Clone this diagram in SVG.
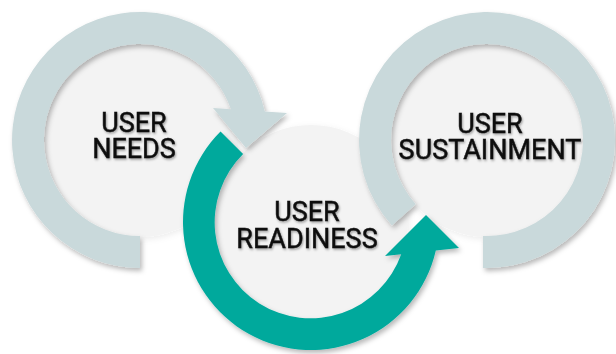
<svg xmlns="http://www.w3.org/2000/svg" width="616" height="354" viewBox="0 0 616 354">
  <defs>
    <filter id="ringShadow" x="-20%" y="-20%" width="140%" height="140%">
      <feDropShadow dx="2" dy="3" stdDeviation="2.5" flood-color="#000" flood-opacity="0.28"/>
    </filter>
    <filter id="diskShadow" x="-20%" y="-20%" width="140%" height="140%">
      <feDropShadow dx="1" dy="2" stdDeviation="3" flood-color="#000" flood-opacity="0.08"/>
    </filter>
    <filter id="textShadow" x="-10%" y="-20%" width="120%" height="150%">
      <feDropShadow dx="1" dy="1.5" stdDeviation="1" flood-color="#000" flood-opacity="0.35"/>
    </filter>
  </defs>
  <style>
    .disk { fill: #f3f3f3; filter: url(#diskShadow); }
    .ring { fill: #c9d9db; filter: url(#ringShadow); }
    .teal { fill: #03a99c; filter: url(#ringShadow); }
    .label { font-family: Roboto, "Liberation Sans", sans-serif; font-size: 27px; font-weight: 400; fill: #111; stroke: #111; stroke-width: 0.5; text-anchor: middle; filter: url(#textShadow); }
  </style>
  <rect width="616" height="354" fill="#ffffff"/>

  <g id="node-user-needs">
    <circle class="disk" cx="140" cy="140" r="97"/>
    <text class="label" x="134" y="132">USER</text>
    <text class="label" x="134" y="158">NEEDS</text>
  </g>

  <g id="node-user-readiness">
    <circle class="disk" cx="311" cy="222" r="97"/>
    <text class="label" x="307" y="221">USER</text>
    <text class="label" x="307" y="248">READINESS</text>
  </g>

  <g id="node-user-sustainment">
    <circle class="disk" cx="487" cy="140" r="97"/>
    <text class="label" x="490" y="133">USER</text>
    <text class="label" x="490" y="159">SUSTAINMENT</text>
  </g>

  <g id="connectors">
    <path class="ring" d="M140,268 A128,128 0 1 1 264.8,111.4 L287,113 L246,148 L213,108 L230.9,109.2 A96,96 0 1 0 140,236 Z"/>
    <path class="teal" d="M220.5,131.5 A128,128 0 1 0 435.8,250.5 L459,248 L426,215 L385,256 L401.2,254.2 A96,96 0 1 1 243.1,154.1 Z"/>
    <path class="ring" d="M391.9,225.6 A128,128 0 1 1 483,267.9 L483,235.9 A96,96 0 1 0 415.7,204.2 Z"/>
  </g>
</svg>
